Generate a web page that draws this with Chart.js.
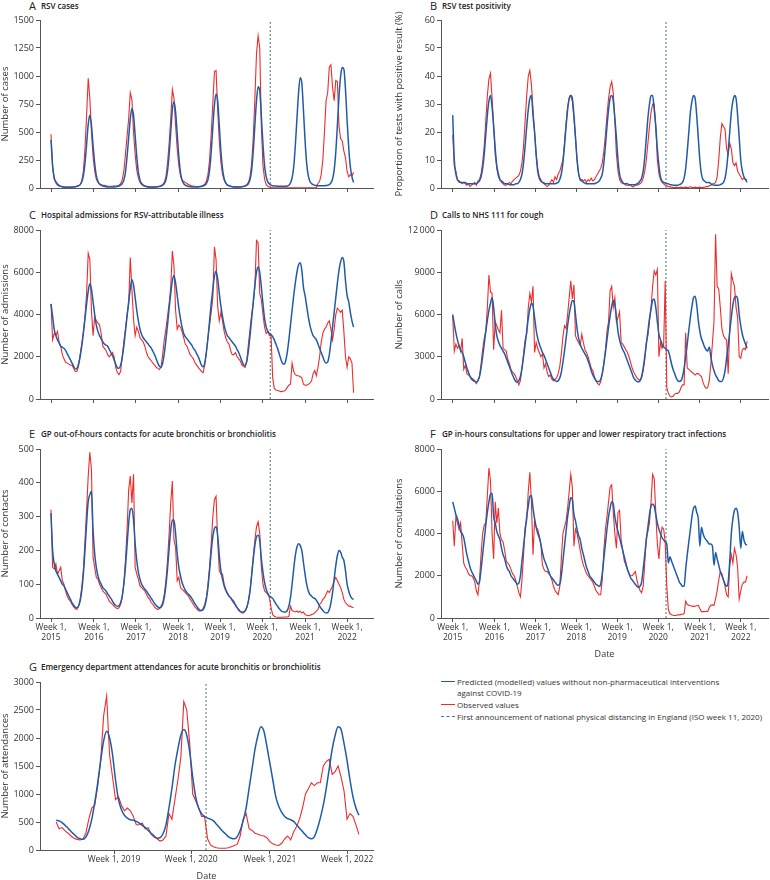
<!DOCTYPE html>
<html>
<head>
<meta charset="utf-8">
<script src="https://cdn.jsdelivr.net/npm/chart.js@4.4.1/dist/chart.umd.min.js"></script>
<style>
  html, body { margin: 0; padding: 0; background: #fff; overflow: hidden; }
  body { width: 770px; height: 880px; position: relative; font-family: "Open Sans", sans-serif; color: #222; }
  canvas { position: absolute; }
  .ltr { position: absolute; font-size: 11px; line-height: 12px; color: #222; }
  .ttl { position: absolute; font-size: 8px; font-weight: 600; line-height: 12px; white-space: nowrap; color: #222; }
  .leg { position: absolute; left: 457px; font-size: 8px; line-height: 11px; white-space: nowrap; color: #333; }
  .sw { position: absolute; left: 441px; width: 14px; height: 0; }
</style>
</head>
<body>

<div class="ltr" style="left:29px;top:0px">A</div><div class="ttl" style="left:41px;top:0px">RSV cases</div>
<div class="ltr" style="left:430px;top:0px">B</div><div class="ttl" style="left:442px;top:0px">RSV test positivity</div>
<div class="ltr" style="left:29px;top:209px">C</div><div class="ttl" style="left:41px;top:209px">Hospital admissions for RSV-attributable illness</div>
<div class="ltr" style="left:430px;top:209px">D</div><div class="ttl" style="left:442px;top:209px">Calls to NHS 111 for cough</div>
<div class="ltr" style="left:29px;top:428px">E</div><div class="ttl" style="left:41px;top:428px">GP out-of-hours contacts for acute bronchitis or bronchiolitis</div>
<div class="ltr" style="left:430px;top:428px">F</div><div class="ttl" style="left:442px;top:428px">GP in-hours consultations for upper and lower respiratory tract infections</div>
<div class="ltr" style="left:29px;top:661px">G</div><div class="ttl" style="left:41px;top:661px">Emergency department attendances for acute bronchitis or bronchiolitis</div>

<div class="sw" style="top:681px;border-top:1.5px solid #1f5ca8"></div>
<div class="leg" style="top:676px">Predicted (modelled) values without non-pharmaceutical interventions</div>
<div class="leg" style="top:687px">against COVID-19</div>
<div class="sw" style="top:704px;border-top:1.5px solid #ee2c2c"></div>
<div class="leg" style="top:699px">Observed values</div>
<div class="sw" style="top:716px;border-top:1px dashed #4a7878"></div>
<div class="leg" style="top:711px">First announcement of national physical distancing in England (ISO week 11, 2020)</div>

<script>
// sampling grid: every second ISO week, counted from week 1 of 2015
const weeks = [];
for (let w = 0; w <= 374; w += 2) weeks.push(w);
const weeksED = [];
for (let w = 170; w <= 374; w += 2) weeksED.push(w);

const yearTicks = [0, 53, 105, 157, 209, 261, 314, 366];
const yearNames = ['2015', '2016', '2017', '2018', '2019', '2020', '2021', '2022'];
const edTicks = [209, 261, 314, 366];
const edNames = ['2019', '2020', '2021', '2022'];
const distancingWeek = 271;

// A RSV cases
const rsvCasesPred = [
  430,200,90,50,30,20,15,12,10,8,8,8,8,8,10,12,15,20,30,55,110,220,390,570,650,560,
  380,220,110,60,35,25,18,15,12,10,10,10,10,10,12,15,18,25,40,70,140,280,450,620,710,650,
  470,280,140,70,40,25,18,14,12,10,10,10,10,10,12,14,18,25,40,70,150,300,500,700,770,680,
  480,280,140,70,40,25,18,14,12,10,10,10,10,10,12,14,18,25,40,75,160,320,540,740,840,780,
  560,330,170,85,45,28,20,15,12,10,10,10,10,10,12,14,18,25,40,75,160,330,560,780,905,870,
  640,390,200,100,55,35,25,20,18,18,16,15,15,15,15,16,18,25,45,90,190,380,620,850,985,940,
  700,430,220,110,60,40,30,25,22,20,20,20,20,20,22,25,30,45,80,160,320,560,820,1000,1075,1060,
  880,600,360,190,100,50
];
const rsvCasesObs = [
  480,180,80,60,40,25,15,10,8,5,5,5,5,8,8,10,15,20,30,60,150,350,650,980,800,500,
  280,150,80,50,35,30,25,25,20,15,15,15,15,20,15,20,25,40,70,150,300,460,620,850,790,500,
  300,160,90,50,30,20,15,10,8,8,8,8,10,10,12,15,20,30,50,100,220,400,620,880,800,560,
  350,200,110,70,60,50,40,30,25,20,15,15,12,12,15,18,25,35,60,120,250,480,750,1040,1050,700,
  420,230,120,70,40,25,20,15,12,10,10,10,10,10,12,15,20,30,50,100,220,450,800,1200,1360,1250,
  550,200,80,30,15,8,3,2,2,2,2,2,2,2,2,2,2,2,2,2,2,2,2,2,2,2,
  2,2,2,2,2,2,2,2,2,40,60,120,250,500,780,850,1080,1100,900,780,960,950,550,440,420,330,
  270,150,100,120,110,140
];

// B RSV test positivity (%)
const positivityPred = [
  26,10,5,3,2.5,2,2,2,2,1.5,1.5,1.5,1.5,1.5,1.5,1.5,2,2.5,4,7,12,19,26,31,33,29,
  22,14,8,5,3,2.5,2,1.5,1.5,1.5,1.2,1.2,1.2,1.2,1.5,1.5,2,3,5,9,15,22,28,32,33,26,
  20,12,6,3.5,2.5,2,1.8,1.5,1.5,1.5,1.5,1.5,1.5,1.5,1.8,2,3,5,9,15,22,28,32,33,32,26,
  18,10,5,3,2.5,2,1.8,1.5,1.5,1.5,1.5,1.5,1.5,1.8,2,2.5,3.5,5,9,15,22,28,32,33,31,25,
  18,10,5,3,2,1.5,1.5,1.5,1.2,1.2,1.2,1.2,1.2,1.5,1.8,2.5,3.5,6,11,18,25,30,33,33,28,22,
  14,8,4,2.5,2,1.8,1.5,1.5,1.2,1.2,1,1,1,1,1.2,1.5,2,3.5,7,13,20,27,31,33,32,26,
  18,10,5,3,2.5,2,2,2,1.5,1.2,1,1,1,1,1.2,1.5,2,3.5,7,13,20,27,31,33,32,26,
  18,10,6,4,3,2
];
const positivityObs = [
  19,8,6,3,2,2,1.5,2,1.5,1,1.5,0.5,1,1.5,2,1,2.5,3,5,9,15,24,33,39,41,32,
  22,12,7,4,3,2,1.5,1,1,1.5,2,1.5,2.5,3,3.5,4,4.5,6,9,15,24,33,40,42,37,28,
  20,12,7,4,3,2,1.5,1,0.5,1,2,3,2,4,3,5,6,8,10,16,23,29,32,33,31,25,
  18,10,5,3,3,2.5,3,2,3,2.5,3.5,2.5,3,4,5,6,7,9,13,19,26,32,36,38,34,24,
  12,6,3,2,1.5,1.5,1,1,1,1,0.5,0.5,1,1,1.2,1.5,2,3.5,6,10,16,22,27,30,30,22,
  10,5,3,2,1.5,1,0.8,0.5,0.4,0.3,0.2,0.2,0.3,0.2,0.2,0.3,0.2,0.2,0.3,0.2,0.2,0.5,0.2,0.2,0.3,0.2,
  0.2,0.3,0.2,0.2,0.3,0.5,0.5,0.8,1,1.5,1.5,2,4,10,18,23,22,21,14,12,16,14,9,8,9,6,
  5,4,3,3.5,3,3
];

// C hospital admissions
const admissionsPred = [
  4500,3900,3300,3000,2800,2650,2500,2450,2400,2300,2150,2000,1850,1700,1550,1420,1450,1650,2000,2500,3100,3800,4500,5100,5450,5200,
  4600,4000,3500,3200,3000,2850,2700,2600,2550,2500,2350,2200,2050,1850,1650,1480,1450,1600,1950,2500,3200,3900,4600,5200,5650,5400,
  4800,4200,3700,3300,3050,2900,2800,2700,2600,2500,2400,2250,2100,1900,1700,1550,1500,1700,2150,2800,3500,4300,5000,5600,5850,5500,
  4900,4300,3800,3400,3100,2950,2850,2750,2650,2550,2400,2300,2150,2000,1800,1600,1520,1700,2200,2900,3700,4500,5200,5800,6050,5700,
  5000,4400,3900,3500,3200,3000,2900,2800,2700,2600,2500,2350,2200,2000,1800,1620,1600,1800,2300,3000,3800,4600,5400,6000,6250,6000,
  5300,4500,3800,3400,3200,3100,3050,2950,2800,2600,2400,2150,1900,1700,1650,1800,2200,2800,3500,4200,4900,5500,6000,6350,6450,6100,
  5300,4900,4400,3900,3500,3200,3000,2900,2800,2600,2400,2200,2000,1800,1700,1750,2100,2700,3400,4100,4800,5500,6100,6500,6700,6500,
  5600,4900,4600,4100,3700,3400
];
const admissionsObs = [
  4500,2800,3100,3000,3200,2700,2500,2100,1900,1750,1700,1650,1600,1600,1450,1300,1300,1550,2100,2600,3200,3900,5000,6900,6600,4200,
  3000,3900,3700,3600,3500,3100,2500,2400,2300,2100,2000,2100,2200,2000,1500,1250,1150,1300,2000,2700,3300,4000,4500,6700,5200,3800,
  3000,3400,3200,2900,2800,2700,2500,2200,2000,1900,1800,1700,1600,1500,1450,1400,1500,2100,2800,3300,3900,4500,5300,7000,6300,4200,
  3300,3500,3400,3200,2900,2600,2500,2300,2100,2000,1900,1700,1600,1500,1400,1300,1250,1600,2200,2900,3500,4100,4800,7200,6600,4400,
  3700,4100,3700,3200,2900,2700,2600,2300,2100,2100,2200,2000,1900,1800,1600,1550,1500,1800,2600,3300,4000,4500,5300,7500,7400,5000,
  4700,4000,3400,3100,3200,3000,3000,1000,500,420,400,380,350,360,380,420,550,650,700,1700,1300,1150,1100,1100,1050,1000,
  700,650,650,700,750,850,1200,1350,1100,1500,2000,2700,3100,3300,3400,3600,3700,3300,2800,3300,4000,4300,4200,4100,4200,3200,
  2000,1500,2000,1900,1700,300
];

// D calls to NHS 111 for cough
const callsPred = [
  6000,5300,4700,4200,3800,3500,3300,3000,2600,2200,1900,1600,1400,1300,1250,1200,1300,1600,2200,3000,3900,4800,5600,6300,6800,7200,
  6500,5300,4500,4100,3800,3600,3400,3200,2900,2600,2300,2000,1700,1450,1250,1200,1300,1600,2200,3000,3900,4800,5700,6400,6800,6600,
  5800,4900,4300,3900,3600,3300,3100,2800,2500,2200,1900,1600,1400,1300,1250,1300,1500,1900,2600,3400,4300,5200,6000,6600,7000,6900,
  6000,5000,4300,3900,3600,3400,3200,3000,2700,2400,2000,1700,1500,1300,1250,1250,1400,1800,2500,3300,4200,5100,5900,6600,7000,6700,
  5800,4800,4200,3800,3500,3300,3000,2700,2400,2100,1800,1500,1350,1250,1200,1300,1600,2200,3000,3900,4800,5700,6400,7000,7100,6500,
  5500,4600,4200,3900,3700,3600,3500,3400,3000,2500,2100,1800,1500,1300,1250,1300,1600,2200,3000,3900,4900,5800,6600,7200,7300,6700,
  5600,4800,4300,4000,3700,3500,3400,3700,3000,2400,2000,1700,1500,1300,1250,1250,1500,2000,2900,3800,4800,5800,6700,7200,7300,7100,
  6000,5200,4600,4200,3900,3600
];
const callsObs = [
  5900,3400,3900,3600,3800,3400,4300,2100,2400,1800,1700,1600,1500,1400,1300,1100,1300,1600,2500,3500,4300,4800,6500,8800,7600,7500,
  3500,5500,5200,4900,4700,6300,3600,3500,3400,2800,2500,2100,1900,1800,1600,1300,1000,1300,2200,3200,4200,4600,6500,7500,6900,8000,
  3300,4000,3600,3300,3000,3200,2200,2500,1900,1600,1700,1400,1300,1400,1500,1800,2300,3200,4400,5200,5000,6000,7200,8400,7100,8100,
  4500,4200,4000,3800,4600,4000,3500,3300,3000,2600,2200,2000,1600,1300,1100,1000,1200,1800,2500,3500,4800,5500,7700,8000,6500,7200,
  5500,5800,6200,4000,3900,3700,3500,3300,3000,2600,2200,1900,1700,1500,1400,1300,1500,2000,2800,4000,4500,5500,6500,8000,9100,8800,
  9200,3000,4000,3600,3800,8400,800,400,200,150,200,350,400,400,500,800,1000,1000,4700,2200,2100,2000,1900,1800,1700,1800,
  1800,1700,1600,1200,900,750,800,1300,2500,4000,5500,11700,8000,7800,6500,5000,4500,4300,4200,1800,5000,8900,8400,8000,6500,5800,
  3000,2900,3500,3600,3500,4100
];

// E GP out-of-hours contacts
const outOfHoursPred = [
  310,200,160,140,130,120,110,100,95,85,75,65,55,45,38,32,30,35,50,80,130,200,280,345,365,375,
  260,190,150,125,110,100,90,85,80,72,65,58,50,42,37,35,36,45,65,100,150,215,280,320,325,290,
  220,170,135,115,100,92,85,80,72,65,58,50,43,37,33,30,32,40,60,95,145,205,260,290,290,250,
  190,150,125,105,92,82,75,70,65,58,50,42,35,28,23,22,25,35,55,90,140,195,240,265,270,245,
  185,140,115,95,82,72,65,60,52,45,38,30,25,20,18,18,22,32,50,80,125,175,215,240,245,230,
  175,135,105,85,72,65,62,58,50,42,35,28,22,19,18,18,22,35,60,100,145,185,210,220,215,200,
  165,130,100,80,70,65,60,58,52,45,35,28,22,17,15,16,25,45,75,115,155,185,200,195,180,170,
  140,100,80,65,58,55
];
const outOfHoursObs = [
  320,150,145,160,130,140,150,110,100,80,65,55,50,40,33,28,25,35,55,90,140,230,320,420,490,440,
  180,150,120,115,100,90,80,75,70,60,50,45,40,35,30,28,30,40,60,100,170,260,380,420,340,425,
  150,130,115,95,90,85,80,70,60,55,45,40,32,28,25,28,35,45,70,110,170,250,340,405,230,210,
  110,120,90,85,80,75,70,65,55,48,40,32,28,22,20,22,28,40,60,100,150,220,300,350,360,230,
  140,130,130,100,85,75,65,60,55,50,40,32,22,18,15,15,20,30,50,80,130,180,230,270,285,250,
  150,100,80,75,70,60,30,10,5,3,2,2,2,2,3,3,3,4,35,22,20,18,20,17,20,15,
  18,10,8,7,8,10,12,15,20,25,40,45,55,60,70,80,75,85,95,110,120,110,100,90,75,55,
  45,40,35,35,32,30
];

// F GP in-hours consultations
const inHoursPred = [
  5500,5200,4900,4700,4400,4100,4000,3800,3400,3000,2700,2400,2200,2050,1900,1750,1600,1700,2300,3000,3700,4400,5000,5500,5850,5900,
  4800,4500,4100,3900,3700,3300,3000,2800,2500,2300,2200,2000,1900,1800,1700,1600,1650,2000,2700,3400,4100,4800,5300,5750,5800,5200,
  4700,4300,4000,3800,3500,3100,2800,2600,2400,2200,2000,1900,1800,1700,1600,1550,1600,2000,2700,3400,4100,4800,5300,5700,5600,4900,
  4600,4200,3900,3700,3300,3000,2700,2400,2200,2000,1900,1800,1700,1600,1550,1500,1600,2100,2800,3500,4200,4800,5200,5500,5400,4800,
  4400,4100,3800,3500,3200,2900,2600,2300,2100,1900,1800,1700,1600,1500,1450,1500,1700,2300,3000,3700,4300,4900,5300,5400,5300,4900,
  4500,4200,4000,3800,3700,3600,3500,2600,2900,2700,2500,2300,2100,1900,1700,1600,1500,1500,2300,3000,3600,4200,4800,5200,5300,5000,
  4700,3400,4300,4000,3800,3700,3600,3500,3500,3400,2500,3100,2800,2500,2200,2000,1800,1600,1500,1700,2700,4000,4700,5100,5200,5000,
  4300,3300,4100,3700,3500,3450
];
const inHoursObs = [
  4600,3400,4800,4500,4200,4500,3500,2600,2400,2300,2100,2000,2000,1900,1700,1300,1100,1800,3000,4000,4400,4500,5800,7100,6500,4000,
  2800,5500,4500,5200,4000,3700,3600,3200,2700,2600,2500,2300,2100,2000,1800,1500,1200,1000,1800,3000,4300,4600,6000,6900,5500,3000,
  4600,4300,4200,3900,3500,2500,2300,2200,2200,2100,2000,1800,1500,1300,1200,1100,1500,2800,4000,4300,4600,5200,6000,6800,6200,3400,
  4200,4000,3600,3200,2800,2500,2300,2100,2000,1900,1800,1700,1500,1300,1200,1100,1100,1800,3200,4200,4800,5500,6200,6300,5000,4000,
  3300,5000,5100,3700,3200,2700,2500,2300,2100,2000,2000,2100,2200,1800,1500,1300,1200,1500,2600,3800,4100,4500,5500,6800,6600,5000,
  3500,2800,3800,4300,4200,3600,1500,400,200,150,130,120,120,150,150,170,180,200,800,650,600,580,560,550,560,580,
  600,450,300,300,300,320,300,500,600,620,600,900,1300,1800,2200,2100,1800,1500,1100,1000,2500,3000,2600,3300,3000,2400,
  900,1300,1600,1700,1700,2000
];

// G emergency department attendances (from week 14, 2018)
const edPred = [
  530,520,490,440,390,330,280,230,200,190,
  230,350,550,850,1200,1600,1950,2120,2000,1700,
  1250,900,720,620,570,540,530,510,480,440,
  400,350,300,250,210,220,290,450,750,1100,
  1500,1800,2050,2150,2050,1750,1300,950,750,650,
  600,570,550,520,460,400,340,290,240,210,
  200,240,350,520,750,1100,1450,1800,2050,2200,
  2120,1850,1550,1250,950,780,670,600,560,540,
  510,450,390,330,270,220,200,240,380,570,
  800,1100,1450,1800,2050,2200,2150,1900,1600,1250,
  950,750,620
];
const edObs = [
  500,380,400,340,300,250,210,190,180,190,
  300,550,750,800,1150,1600,2400,2750,1700,1300,
  900,950,800,700,750,700,600,450,450,480,
  380,400,280,230,200,160,180,250,650,550,
  900,1250,1650,2650,2500,1900,1000,880,750,600,
  600,200,90,60,40,30,30,30,40,60,
  80,100,250,550,650,380,350,300,280,260,
  250,220,150,110,90,80,120,200,250,180,
  320,420,550,750,1000,1100,1200,1150,1200,1200,
  1500,1580,1620,1350,1400,1500,1300,1050,550,650,
  600,450,280
];

const BLUE = '#1f5ca8';
const RED = '#ee2c2c';
const DASH = '#4a7878';

Chart.defaults.font.family = '"Open Sans", sans-serif';
Chart.defaults.color = '#333';

const LEFT = { x: 0, w: 380, wy: 40, pr: 7, xmin: -13.6, xmax: 398, ytpad: 0 };
const RIGHT = { x: 388, w: 382, wy: 53, pr: 2, xmin: -14.9, xmax: 400.6, ytpad: 6 };

function pts(xs, ys) {
  return xs.map((w, i) => ({ x: w, y: ys[i] }));
}

function panel(col, p) {
  const cv = document.createElement('canvas');
  cv.width = col.w; cv.height = p.h;
  cv.style.left = col.x + 'px'; cv.style.top = p.top + 'px';
  cv.style.width = col.w + 'px'; cv.style.height = p.h + 'px';
  document.body.appendChild(cv);

  const xs = p.xs || weeks;
  const xmin = p.xmin !== undefined ? p.xmin : col.xmin;
  const xmax = p.xmax !== undefined ? p.xmax : col.xmax;
  const ticksX = p.ticksX || yearTicks;

  new Chart(cv.getContext('2d'), {
    type: 'line',
    data: {
      datasets: [
        { data: pts(xs, p.pred), borderColor: BLUE, borderWidth: 1.5, pointRadius: 0, cubicInterpolationMode: 'monotone' },
        { data: pts(xs, p.obs), borderColor: RED, borderWidth: 1.1, pointRadius: 0, tension: 0 },
        { data: [{ x: distancingWeek, y: 0 }, { x: distancingWeek, y: p.yTicks[p.yTicks.length - 1] }],
          borderColor: DASH, borderWidth: 1, borderDash: [2, 2], pointRadius: 0 }
      ]
    },
    options: {
      responsive: false,
      animation: false,
      devicePixelRatio: 1,
      layout: { padding: { top: 12, right: col.pr, left: 0, bottom: 0 } },
      plugins: { legend: { display: false }, tooltip: { enabled: false } },
      scales: {
        x: {
          type: 'linear', min: xmin, max: xmax,
          afterBuildTicks: s => { s.ticks = ticksX.map(v => ({ value: v })); },
          afterFit: s => { s.height = p.hx; },
          grid: { drawOnChartArea: false, tickLength: 4, color: '#555' },
          border: { color: '#555' },
          ticks: { autoSkip: false, maxRotation: 0, padding: 0, font: { size: 8.5 }, color: '#333',
                   callback: (v, i) => p.xLabel ? p.xLabel(i) : '' },
          title: { display: !!p.xTitle, text: 'Date', font: { size: 9 }, color: '#333', padding: 0 }
        },
        y: {
          min: 0, max: p.yTicks[p.yTicks.length - 1],
          afterBuildTicks: s => { s.ticks = p.yTicks.map(v => ({ value: v })); },
          afterFit: s => { s.width = col.wy; },
          grid: { drawOnChartArea: false, tickLength: 4, color: '#555' },
          border: { color: '#555' },
          ticks: { padding: 2, font: { size: 9 }, color: '#333', callback: (v, i) => p.yLabels[i] },
          title: { display: true, text: p.yTitle, font: { size: 9.5 }, color: '#333', padding: { top: col.ytpad, bottom: 0 } }
        }
      }
    }
  });
}

const casesTicks = [0, 250, 500, 750, 1000, 1250, 1500];
const positivityTicks = [0, 10, 20, 30, 40, 50, 60];
const admissionsTicks = [0, 2000, 4000, 6000, 8000];
const callsTicks = [0, 3000, 6000, 9000, 12000];
const callsLabels = ['0', '3000', '6000', '9000', '12\u2009000'];
const outOfHoursTicks = [0, 100, 200, 300, 400, 500];
const inHoursTicks = [0, 2000, 4000, 6000, 8000];
const edYTicks = [0, 500, 1000, 1500, 2000, 2500, 3000];
const str = a => a.map(String);

panel(LEFT, { top: 8, h: 190, hx: 10, pred: rsvCasesPred, obs: rsvCasesObs,
  yTicks: casesTicks, yLabels: str(casesTicks), yTitle: 'Number of cases' });
panel(RIGHT, { top: 8, h: 190, hx: 10, pred: positivityPred, obs: positivityObs,
  yTicks: positivityTicks, yLabels: str(positivityTicks), yTitle: 'Proportion of tests with positive result (%)' });
panel(LEFT, { top: 218, h: 191, hx: 10, pred: admissionsPred, obs: admissionsObs,
  yTicks: admissionsTicks, yLabels: str(admissionsTicks), yTitle: 'Number of admissions' });
panel(RIGHT, { top: 218, h: 191, hx: 10, pred: callsPred, obs: callsObs,
  yTicks: callsTicks, yLabels: callsLabels, yTitle: 'Number of calls' });
panel(LEFT, { top: 437, h: 223, hx: 42, pred: outOfHoursPred, obs: outOfHoursObs,
  yTicks: outOfHoursTicks, yLabels: str(outOfHoursTicks), yTitle: 'Number of contacts',
  xLabel: i => ['Week 1,', yearNames[i]] });
panel(RIGHT, { top: 437, h: 223, hx: 42, pred: inHoursPred, obs: inHoursObs,
  yTicks: inHoursTicks, yLabels: str(inHoursTicks), yTitle: 'Number of consultations',
  xLabel: i => ['Week 1,', yearNames[i]], xTitle: true });
panel(LEFT, { top: 670, h: 212, hx: 32, xs: weeksED, xmin: 159.1, xmax: 383.5, ticksX: edTicks,
  pred: edPred, obs: edObs,
  yTicks: edYTicks, yLabels: str(edYTicks), yTitle: 'Number of attendances',
  xLabel: i => 'Week 1, ' + edNames[i], xTitle: true });
</script>
</body>
</html>
